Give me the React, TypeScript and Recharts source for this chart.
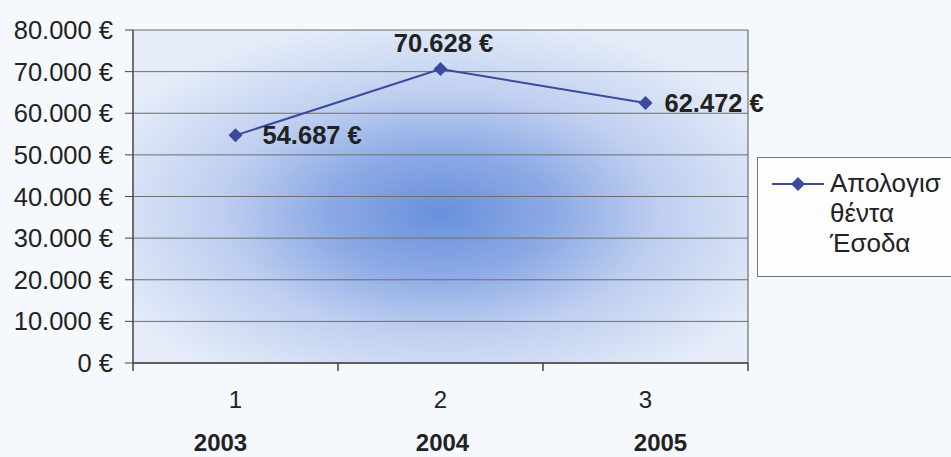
import { CartesianGrid, LabelList, Line, LineChart, ReferenceLine, XAxis, YAxis } from "recharts"

const categories = [1, 2, 3]
const years = ["2003", "2004", "2005"]
const income = [54687, 70628, 62472]
const yTicks = [0, 10000, 20000, 30000, 40000, 50000, 60000, 70000, 80000]
const bandEdges = [0.5, 1.5, 2.5, 3.5]
const legendLines = ["Απολογισ", "θέντα", "Έσοδα"]

const data = categories.map((c, i) => ({ x: c, year: years[i], value: income[i] }))

const FONT = "'Liberation Sans', Arial, sans-serif"
const LINE_COLOR = "#3b4a9c"
// the year row sits a little wider apart than the category ticks
const YEAR_SHIFT = [-15, 2, 15]

function euro(v: number) {
  return String(v).replace(/\B(?=(\d{3})+(?!\d))/g, ".") + " €"
}

function Diamond(props: any) {
  const { cx, cy } = props
  if (cx == null || cy == null) return null
  const s = 7
  return <polygon points={`${cx},${cy - s} ${cx + s},${cy} ${cx},${cy + s} ${cx - s},${cy}`} fill={LINE_COLOR} />
}

function XTick(props: any) {
  const { x, y, payload } = props
  const idx = categories.indexOf(payload.value)
  return (
    <g>
      <text x={x} y={y + 36} textAnchor="middle" fontSize={24} fontFamily={FONT} fill="#222">{payload.value}</text>
      <text x={x + YEAR_SHIFT[idx]} y={y + 79} textAnchor="middle" fontSize={24} fontWeight="bold" fontFamily={FONT} fill="#222">{years[idx]}</text>
    </g>
  )
}

function ValueLabel(props: any) {
  const { x, y, value, index } = props
  const common = { fontSize: 25.5, fontWeight: "bold" as const, fontFamily: FONT, fill: "#222" }
  if (index === 1) {
    return <text x={x + 3} y={y - 17} textAnchor="middle" {...common}>{euro(value)}</text>
  }
  const dx = index === 0 ? 27 : 19
  return <text x={x + dx} y={y + 9} textAnchor="start" {...common}>{euro(value)}</text>
}

function LegendBox() {
  return (
    <div style={{ position: "absolute", left: 757, top: 157, width: 200, height: 120, border: "1px solid #777", background: "#fdfdfe", boxSizing: "border-box", fontFamily: FONT, fontSize: 26, color: "#222" }}>
      <svg width={60} height={20} style={{ position: "absolute", left: 14, top: 16 }}>
        <line x1={0} y1={10} x2={52} y2={10} stroke={LINE_COLOR} strokeWidth={2} />
        <polygon points="26,3 33,10 26,17 19,10" fill={LINE_COLOR} />
      </svg>
      <div style={{ position: "absolute", left: 72, top: 10, lineHeight: "30px" }}>
        {legendLines.map((l) => <div key={l}>{l}</div>)}
      </div>
    </div>
  )
}

export default function App() {
  return (
    <div style={{ position: "absolute", left: 0, top: 0, width: 951, height: 457, background: "#f5f8fd", overflow: "hidden" }}>
      <LineChart width={951} height={457} data={data} margin={{ top: 30, right: 203, bottom: 0, left: 0 }}>
        <defs>
          <radialGradient id="plotGlow" cx="0.5" cy="0.55" r="0.6">
            <stop offset="0%" stopColor="#6890dc" />
            <stop offset="30%" stopColor="#8ca9e5" />
            <stop offset="60%" stopColor="#bfcff0" />
            <stop offset="100%" stopColor="#e6edf9" />
          </radialGradient>
        </defs>
        <CartesianGrid vertical={false} stroke="#6e6e6e" fill="url(#plotGlow)" fillOpacity={1} xAxisId="main" />
        <XAxis xAxisId="main" dataKey="x" type="number" domain={[0.5, 3.5]} allowDataOverflow ticks={categories} tickLine={false} axisLine={false} height={93} tick={<XTick />} interval={0} />
        <XAxis xAxisId="frame" dataKey="x" type="number" domain={[0.5, 3.5]} allowDataOverflow ticks={bandEdges} interval={0} tickFormatter={() => ""} tick={{ fontSize: 1 }} tickSize={8} tickLine={{ stroke: "#444", strokeWidth: 1.5 }} axisLine={{ stroke: "#444", strokeWidth: 1.5 }} height={1} />
        <YAxis domain={[0, 80000]} ticks={yTicks} interval={0} width={133} tickFormatter={euro} tickSize={8} tickLine={{ stroke: "#444" }} axisLine={{ stroke: "#444", strokeWidth: 1.5 }} tick={{ fontSize: 25.5, fontFamily: FONT, fill: "#222" }} tickMargin={12} />
        <ReferenceLine xAxisId="main" x={3.5} stroke="#555" />
        <Line xAxisId="main" dataKey="value" name="Απολογισθέντα Έσοδα" stroke={LINE_COLOR} strokeWidth={2} dot={<Diamond />} activeDot={false} isAnimationActive={false}>
          <LabelList dataKey="value" content={<ValueLabel />} />
        </Line>
      </LineChart>
      <LegendBox />
    </div>
  )
}
